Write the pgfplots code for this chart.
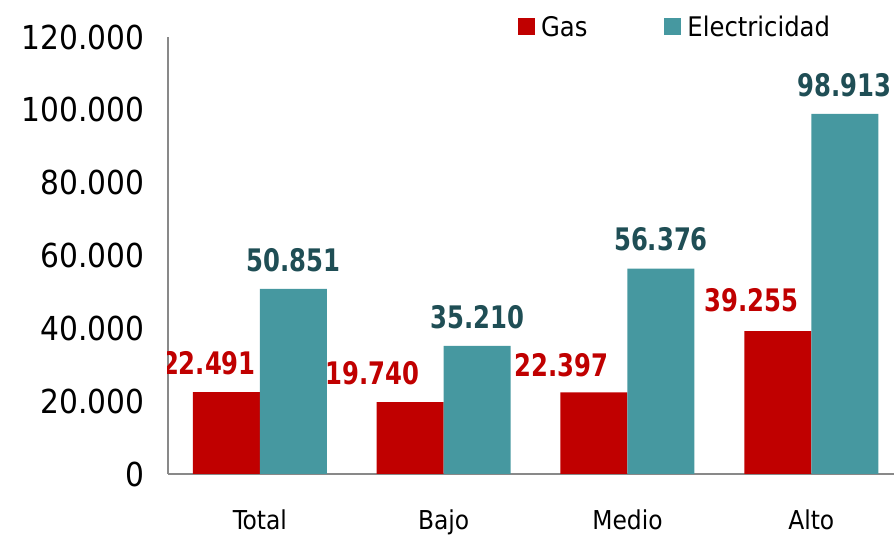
\documentclass[border=0pt]{standalone}
\usepackage{fontspec}
\setmainfont{DejaVu Sans Condensed}
\usepackage{graphicx}
\usepackage{pgfplots}
\usepackage{pgfplotstable}
\pgfplotsset{compat=1.18}

\definecolor{gasred}{HTML}{C00000}
\definecolor{elteal}{HTML}{4698A0}
\definecolor{eldark}{HTML}{1F4E55}
\definecolor{axgray}{HTML}{898989}

% consumo por nivel: gas y electricidad
\pgfplotstableread{
x gas elec
0 22491 50851
1 19740 35210
2 22397 56376
3 39255 98913
}\datatable

\newcommand{\val}[1]{\scalebox{1}[1.15]{\fontsize{27}{30}\selectfont\bfseries #1}}

\begin{document}
\begin{tikzpicture}
\useasboundingbox (-168pt,-61pt) rectangle (726pt,474pt);
\begin{axis}[
    at={(0,0)}, anchor=south west,
    scale only axis,
    width=726pt, height=437pt,
    ybar=0pt, bar width=67pt,
    xmin=-0.5, xmax=3.45,
    ymin=0, ymax=120000,
    axis x line*=bottom, axis y line*=left,
    axis line style={axgray, line width=2pt, -},
    xtick={0,1,2,3},
    xticklabels={Total,Bajo,Medio,Alto},
    ytick={0,20000,40000,60000,80000,100000,120000},
    scaled y ticks=false,
    major tick length=0pt,
    tick style={draw=none},
    /pgf/number format/fixed,
    /pgf/number format/1000 sep={.},
    /pgf/number format/assume math mode=true,
    yticklabel style={font=\fontsize{33}{36}\selectfont, xshift=-20pt},
    xticklabel style={font=\fontsize{26}{30}\selectfont, yshift=-32pt},
    legend columns=2,
    legend style={at={(axis description cs:0.482,1.023)}, anchor=west,
        draw=none, fill=none, inner sep=0pt,
        nodes={inner sep=3pt},
        font=\fontsize{27}{30}\selectfont,
        /tikz/every odd column/.append style={column sep=3pt},
        /tikz/every even column/.append style={column sep=74pt}},
    legend image code/.code={\fill[#1,draw=none] (0pt,-8.5pt) rectangle (17pt,8.5pt);},
]
\addplot[fill=gasred, draw=none] table[x=x, y=gas] {\datatable};
\addlegendentry{Gas}
\addplot[fill=elteal, draw=none,
    nodes near coords={\val{\pgfmathprintnumber{\pgfplotspointmeta}}},
    every node near coord/.append style={anchor=center, yshift=29pt, text=eldark}]
    table[x=x, y=elec] {\datatable};
\addlegendentry{Electricidad}

\node[text=gasred, xshift=-51pt, yshift=29pt] at (axis cs:0,22491) {\val{22.491}};
\node[text=gasred, xshift=-71.5pt, yshift=29pt] at (axis cs:1,19740) {\val{19.740}};
\node[text=gasred, xshift=-66pt, yshift=27pt] at (axis cs:2,22397) {\val{22.397}};
\node[text=gasred, xshift=-60pt, yshift=31pt] at (axis cs:3,39255) {\val{39.255}};
\end{axis}
\end{tikzpicture}
\end{document}
